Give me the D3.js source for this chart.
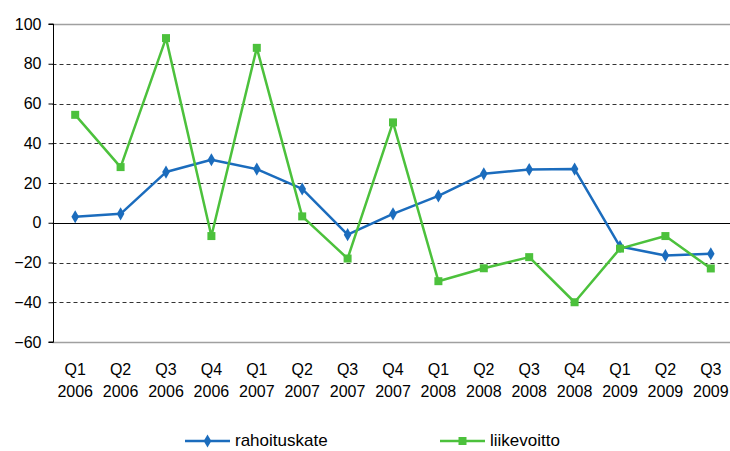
<!DOCTYPE html>
<html><head><meta charset="utf-8">
<script src="https://cdn.jsdelivr.net/npm/d3@7"></script>
<style>body{margin:0;background:#fff}svg{display:block;font-family:"Liberation Sans",Arial,sans-serif}</style>
</head><body><svg id="c" width="730" height="451"></svg>
<script>
const quarters = ["Q1","Q2","Q3","Q4","Q1","Q2","Q3","Q4","Q1","Q2","Q3","Q4","Q1","Q2","Q3"];
const years = ["2006","2006","2006","2006","2007","2007","2007","2007","2008","2008","2008","2008","2009","2009","2009"];
const rahoituskate = [3, 4.5, 25.5, 31.7, 27, 17, -6, 4.5, 13.5, 24.6, 26.8, 27, -12, -16.5, -15.6];
const liikevoitto = [54.3, 28, 92.9, -6.7, 88, 3.2, -18, 50.5, -29.4, -22.9, -17.3, -40, -13, -6.7, -23];
const yTicks = [100, 80, 60, 40, 20, 0, -20, -40, -60];
const seriesNames = ["rahoituskate", "liikevoitto"];
const colors = ["#1b6cbd", "#4cc13c"];

(function () {
const svg = d3.select("#c");
const pLeft = 52.5, pRight = 733.5, pTop = 24, pBottom = 342;
const cats = quarters.map((q, i) => i);
const x = d3.scaleBand().domain(cats).range([pLeft, pRight]);
const y = d3.scaleLinear().domain([-60, 100]).range([pBottom, pTop]);
const cx = i => x(i) + x.bandwidth() / 2;

yTicks.forEach(t => {
  if (t === 0) return;
  const yy = Math.round(y(t)) + 0.5;
  if (t === 100 || t === -60) {
    svg.append("line").attr("x1", pLeft).attr("x2", 730).attr("y1", yy).attr("y2", yy)
      .attr("stroke", "#a0a0a0").attr("stroke-width", 1.5);
  } else {
    svg.append("line").attr("x1", pLeft).attr("x2", 730).attr("y1", yy).attr("y2", yy)
      .attr("stroke", "#333").attr("stroke-dasharray", "4,3");
  }
});
svg.append("line").attr("x1", pLeft).attr("x2", 730).attr("y1", Math.round(y(0)) + 0.5).attr("y2", Math.round(y(0)) + 0.5)
  .attr("stroke", "#000");

const yAxis = d3.axisLeft(y).tickValues(yTicks).tickSize(5).tickPadding(7);
const ga = svg.append("g").attr("transform", `translate(${Math.round(pLeft)+0.5},0)`).call(yAxis);
ga.select(".domain").attr("stroke", "#000").attr("d", `M-5,${y(100)}H0V${y(-60)}H-5`);
ga.selectAll(".tick line").attr("stroke", "#000");
ga.selectAll("text").attr("font-size", 16).attr("fill", "#000").attr("font-family", "Liberation Sans, Arial, sans-serif");

cats.forEach(i => {
  svg.append("text").attr("x", cx(i)).attr("y", 375).attr("text-anchor", "middle")
    .attr("font-size", 16).text(quarters[i]);
  svg.append("text").attr("x", cx(i)).attr("y", 397).attr("text-anchor", "middle")
    .attr("font-size", 16).text(years[i]);
});

const line = d3.line().x((d, i) => cx(i)).y(d => y(d));
const series = [rahoituskate, liikevoitto];
const diamond = d3.symbol().type(d3.symbolDiamond).size(50);
const square = d3.symbol().type(d3.symbolSquare).size(64);

series.forEach((s, k) => {
  svg.append("path").datum(s).attr("d", line).attr("fill", "none")
    .attr("stroke", colors[k]).attr("stroke-width", 2.5).attr("stroke-linejoin", "round");
  svg.selectAll(null).data(s).enter().append("path")
    .attr("transform", (d, i) => `translate(${cx(i)},${y(d)})`)
    .attr("d", k === 0 ? diamond : square).attr("fill", colors[k]);
});

const legX = [185, 440];
seriesNames.forEach((n, k) => {
  const g = svg.append("g");
  g.append("line").attr("x1", legX[k]).attr("x2", legX[k] + 45).attr("y1", 441).attr("y2", 441)
    .attr("stroke", colors[k]).attr("stroke-width", 2.5);
  g.append("path").attr("transform", `translate(${legX[k] + 22.5},441)`)
    .attr("d", k === 0 ? diamond : square).attr("fill", colors[k]);
  g.append("text").attr("x", legX[k] + 50).attr("y", 446).attr("font-size", 17).text(n);
});
})();
</script></body></html>
